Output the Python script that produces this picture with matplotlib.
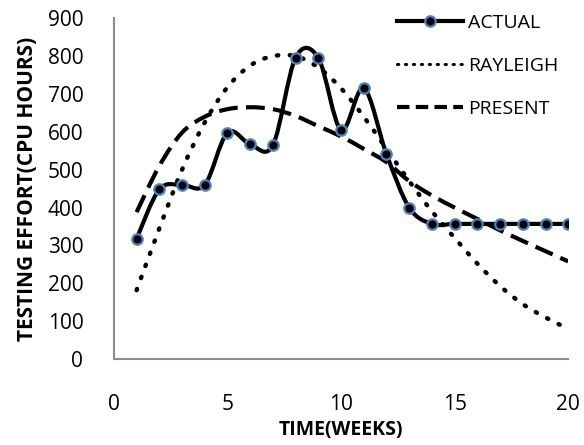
import matplotlib
matplotlib.use("Agg")
import matplotlib.pyplot as plt
from matplotlib.path import Path
from matplotlib.patches import PathPatch
from matplotlib.lines import Line2D
import numpy as np

# data
weeks = list(range(1, 21))
actual = [318, 448, 460, 460, 598, 567, 565, 796, 795, 605,
          715, 541, 400, 357, 357, 357, 357, 357, 357, 357]
rayleigh = [182, 345, 500, 625, 718, 775, 800, 800, 770, 715,
            640, 555, 470, 390, 320, 252, 193, 145, 110, 80]
present = [388, 510, 598, 640, 660, 665, 660, 642, 615, 588,
           555, 520, 470, 432, 400, 370, 340, 312, 285, 258]

series_labels = ["ACTUAL", "RAYLEIGH", "PRESENT"]
x_ticks = [0, 5, 10, 15, 20]
y_ticks = list(range(0, 1000, 100))

plt.rcParams["font.family"] = ["Open Sans", "DejaVu Sans"]


def smooth_path(x, y):
    # Excel-style smoothed line: Catmull-Rom converted to cubic Bezier segments
    p = np.column_stack([x, y]).astype(float)
    verts = [p[0]]
    codes = [Path.MOVETO]
    n = len(p)
    for i in range(n - 1):
        p0 = p[i - 1] if i > 0 else p[i]
        p3 = p[i + 2] if i + 2 < n else p[i + 1]
        c1 = p[i] + (p[i + 1] - p0) / 6
        c2 = p[i + 1] - (p3 - p[i]) / 6
        verts += [c1, c2, p[i + 1]]
        codes += [Path.CURVE4] * 3
    return Path(verts, codes)


fig = plt.figure(figsize=(5.84, 4.45), dpi=100)
ax = fig.add_axes([0.195, 0.193, 0.778, 0.766])

dots = (0, (0.3, 2.6))
dashes = (0, (4.5, 2.0))

ax.add_patch(PathPatch(smooth_path(weeks, rayleigh), fill=False, color="black",
                       lw=3.2, linestyle=dots, capstyle="round"))
ax.add_patch(PathPatch(smooth_path(weeks, present), fill=False, color="black",
                       lw=3.0, linestyle=dashes))
ax.add_patch(PathPatch(smooth_path(weeks, actual), fill=False, color="black",
                       lw=3.0, capstyle="round", joinstyle="round"))
ax.plot(weeks, actual, linestyle="none", marker="o", markersize=7.5,
        markerfacecolor="black", markeredgecolor="#4f81bd", markeredgewidth=1.6)

handles = [
    Line2D([], [], color="black", lw=3.0, marker="o", markersize=7.5,
           markerfacecolor="black", markeredgecolor="#4f81bd", markeredgewidth=1.6,
           markevery=[1]),
    Line2D([], [], color="black", lw=2.2, linestyle=(0, (0.4, 2.2)),
           dash_capstyle="round"),
    Line2D([], [], color="black", lw=3.0, linestyle=(0, (3.0, 1.5))),
]
ax.legend(handles, series_labels, loc="upper left", bbox_to_anchor=(0.585, 1.065),
          frameon=False, fontsize=14, handlelength=3.4, labelspacing=1.3,
          handletextpad=0.25)

ax.set_xlim(0, 20)
ax.set_ylim(0, 900)
ax.set_xticks(x_ticks)
ax.set_yticks(y_ticks)
ax.tick_params(axis="x", length=0, labelsize=15, pad=25)
ax.tick_params(axis="y", length=0, labelsize=15, pad=22)
for side in ["top", "right"]:
    ax.spines[side].set_visible(False)
for side in ["left", "bottom"]:
    ax.spines[side].set_color("#8c8c8c")
    ax.spines[side].set_linewidth(1.5)

ax.set_xlabel("TIME(WEEKS)", fontsize=14, fontweight="bold", labelpad=4)
ax.set_ylabel("TESTING EFFORT(CPU HOURS)", fontsize=15, fontweight="bold", labelpad=7)

fig.savefig("out.png", dpi=100)
